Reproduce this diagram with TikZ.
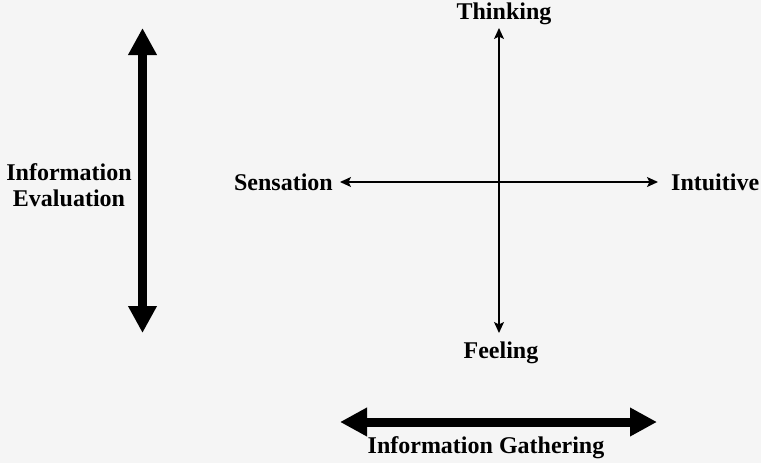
\documentclass[tikz,border=0pt]{standalone}
\usepackage{fontspec}
\setmainfont{Liberation Serif}
\usepackage{tikz}
\usetikzlibrary{positioning,arrows.meta}
\definecolor{scanbg}{HTML}{F5F5F5}

\begin{document}
\begin{tikzpicture}[
  x=1pt, y=-1pt,
  lbl/.style={font=\bfseries\fontsize{24}{26}\selectfont, align=center, inner sep=0pt},
  axis/.style={line width=1.4pt,
               {Stealth[length=11pt,width=10pt,inset=2.5pt]}-{Stealth[length=11pt,width=10pt,inset=2.5pt]}},
  big/.style={line width=9pt,
              {Triangle[length=27pt,width=27pt]}-{Triangle[length=27pt,width=27pt]}}
]
\fill[scanbg] (0,0) rectangle (761,463);
\useasboundingbox (0,0) rectangle (761,463);

% cross
\coordinate (vt) at (499,28);
\coordinate (vb) at (499,333);
\coordinate (hl) at (340,182);
\coordinate (hr) at (658,182);

\node[lbl, above=3pt of vt, xshift=5pt] (think) {Thinking};
\node[lbl, below=9pt of vb, xshift=2pt] (feel) {Feeling};
\node[lbl, left=7pt of hl] (sens) {Sensation};
\node[lbl, right=13pt of hr] (intu) {Intuitive};

\draw[axis] (vt) -- (vb);
\draw[axis] (hl) -- (hr);

% evaluation axis
\coordinate (et) at (142.5,28);
\coordinate (eb) at (142.5,333);
\draw[big] (et) -- (eb);
\node[lbl] (eval) at (69,185) {Information\\Evaluation};

% gathering axis
\coordinate (gl) at (340,422);
\coordinate (gr) at (657,422);
\draw[big] (gl) -- (gr);
\node[lbl] (gath) at (486,448) {Information Gathering};
\end{tikzpicture}
\end{document}
